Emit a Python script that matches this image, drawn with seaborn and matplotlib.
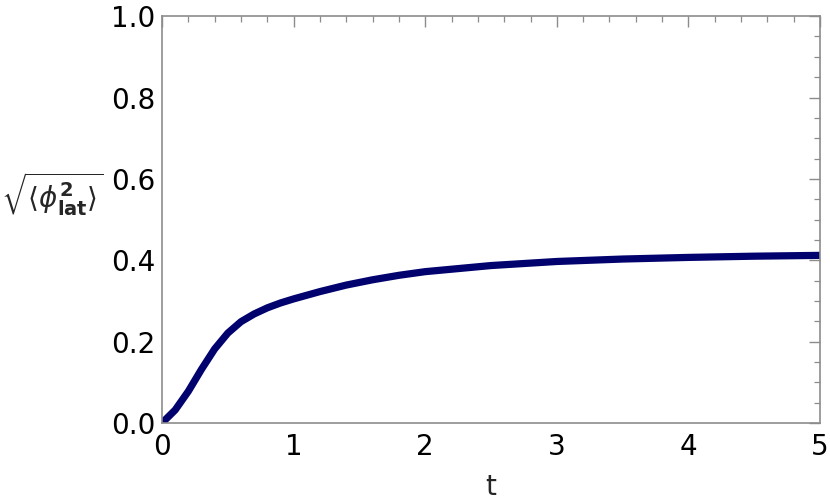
import numpy as np
import pandas as pd
import matplotlib
matplotlib.use("Agg")
import matplotlib.pyplot as plt
import seaborn as sns
from matplotlib.ticker import MultipleLocator

t_values = [0.0, 0.1, 0.2, 0.3, 0.4, 0.5, 0.6, 0.7, 0.8, 0.9, 1.0,
            1.2, 1.4, 1.6, 1.8, 2.0, 2.5, 3.0, 3.5, 4.0, 4.5, 5.0]
phi_rms = [0.0, 0.032, 0.078, 0.132, 0.182, 0.221, 0.249, 0.268, 0.283, 0.295, 0.305,
           0.323, 0.339, 0.352, 0.363, 0.372, 0.387, 0.397, 0.403, 0.407, 0.410, 0.412]
x_label = "t"
y_label = r"$\sqrt{\langle \phi^{\mathbf{2}}_{\mathbf{lat}} \rangle}$"

df = pd.DataFrame({"t": t_values, "phi": phi_rms})

sns.set_style("white")
plt.rcParams["font.family"] = ["DejaVu Sans"]
plt.rcParams["mathtext.fontset"] = "dejavusans"

fig = plt.figure(figsize=(8.3, 5.04), dpi=100)
ax = fig.add_axes([0.1952, 0.1607, 0.7928, 0.8073])

sns.lineplot(data=df, x="t", y="phi", ax=ax, color="#02026e", linewidth=5.2,
             solid_capstyle="butt")

ax.set_xlim(0, 5)
ax.set_ylim(0, 1)
ax.xaxis.set_major_locator(MultipleLocator(1))
ax.xaxis.set_minor_locator(MultipleLocator(0.2))
ax.yaxis.set_major_locator(MultipleLocator(0.2))
ax.yaxis.set_minor_locator(MultipleLocator(0.05))

def fmt_x(v, pos):
    return f"{int(round(v))}"
def fmt_y(v, pos):
    return f"{v:.1f}"
ax.xaxis.set_major_formatter(plt.FuncFormatter(fmt_x))
ax.yaxis.set_major_formatter(plt.FuncFormatter(fmt_y))

spine_color = "#8c8c8c"
for s in ax.spines.values():
    s.set_visible(True)
    s.set_color(spine_color)
    s.set_linewidth(1.2)

ax.tick_params(which="both", direction="in", top=True, right=True,
               color=spine_color, labelsize=20, labelcolor="black")
ax.tick_params(which="major", length=8, width=1.0)
ax.tick_params(axis="y", which="major", pad=5)
ax.tick_params(axis="x", which="major", pad=7)
ax.tick_params(which="minor", length=4.5, width=0.9)

ax.set_xlabel(x_label, fontsize=20, labelpad=9)
ax.set_ylabel(y_label, fontsize=20, rotation=0, labelpad=8)
ax.yaxis.set_label_coords(-0.167, 0.505)

fig.savefig("out.png", dpi=100)
